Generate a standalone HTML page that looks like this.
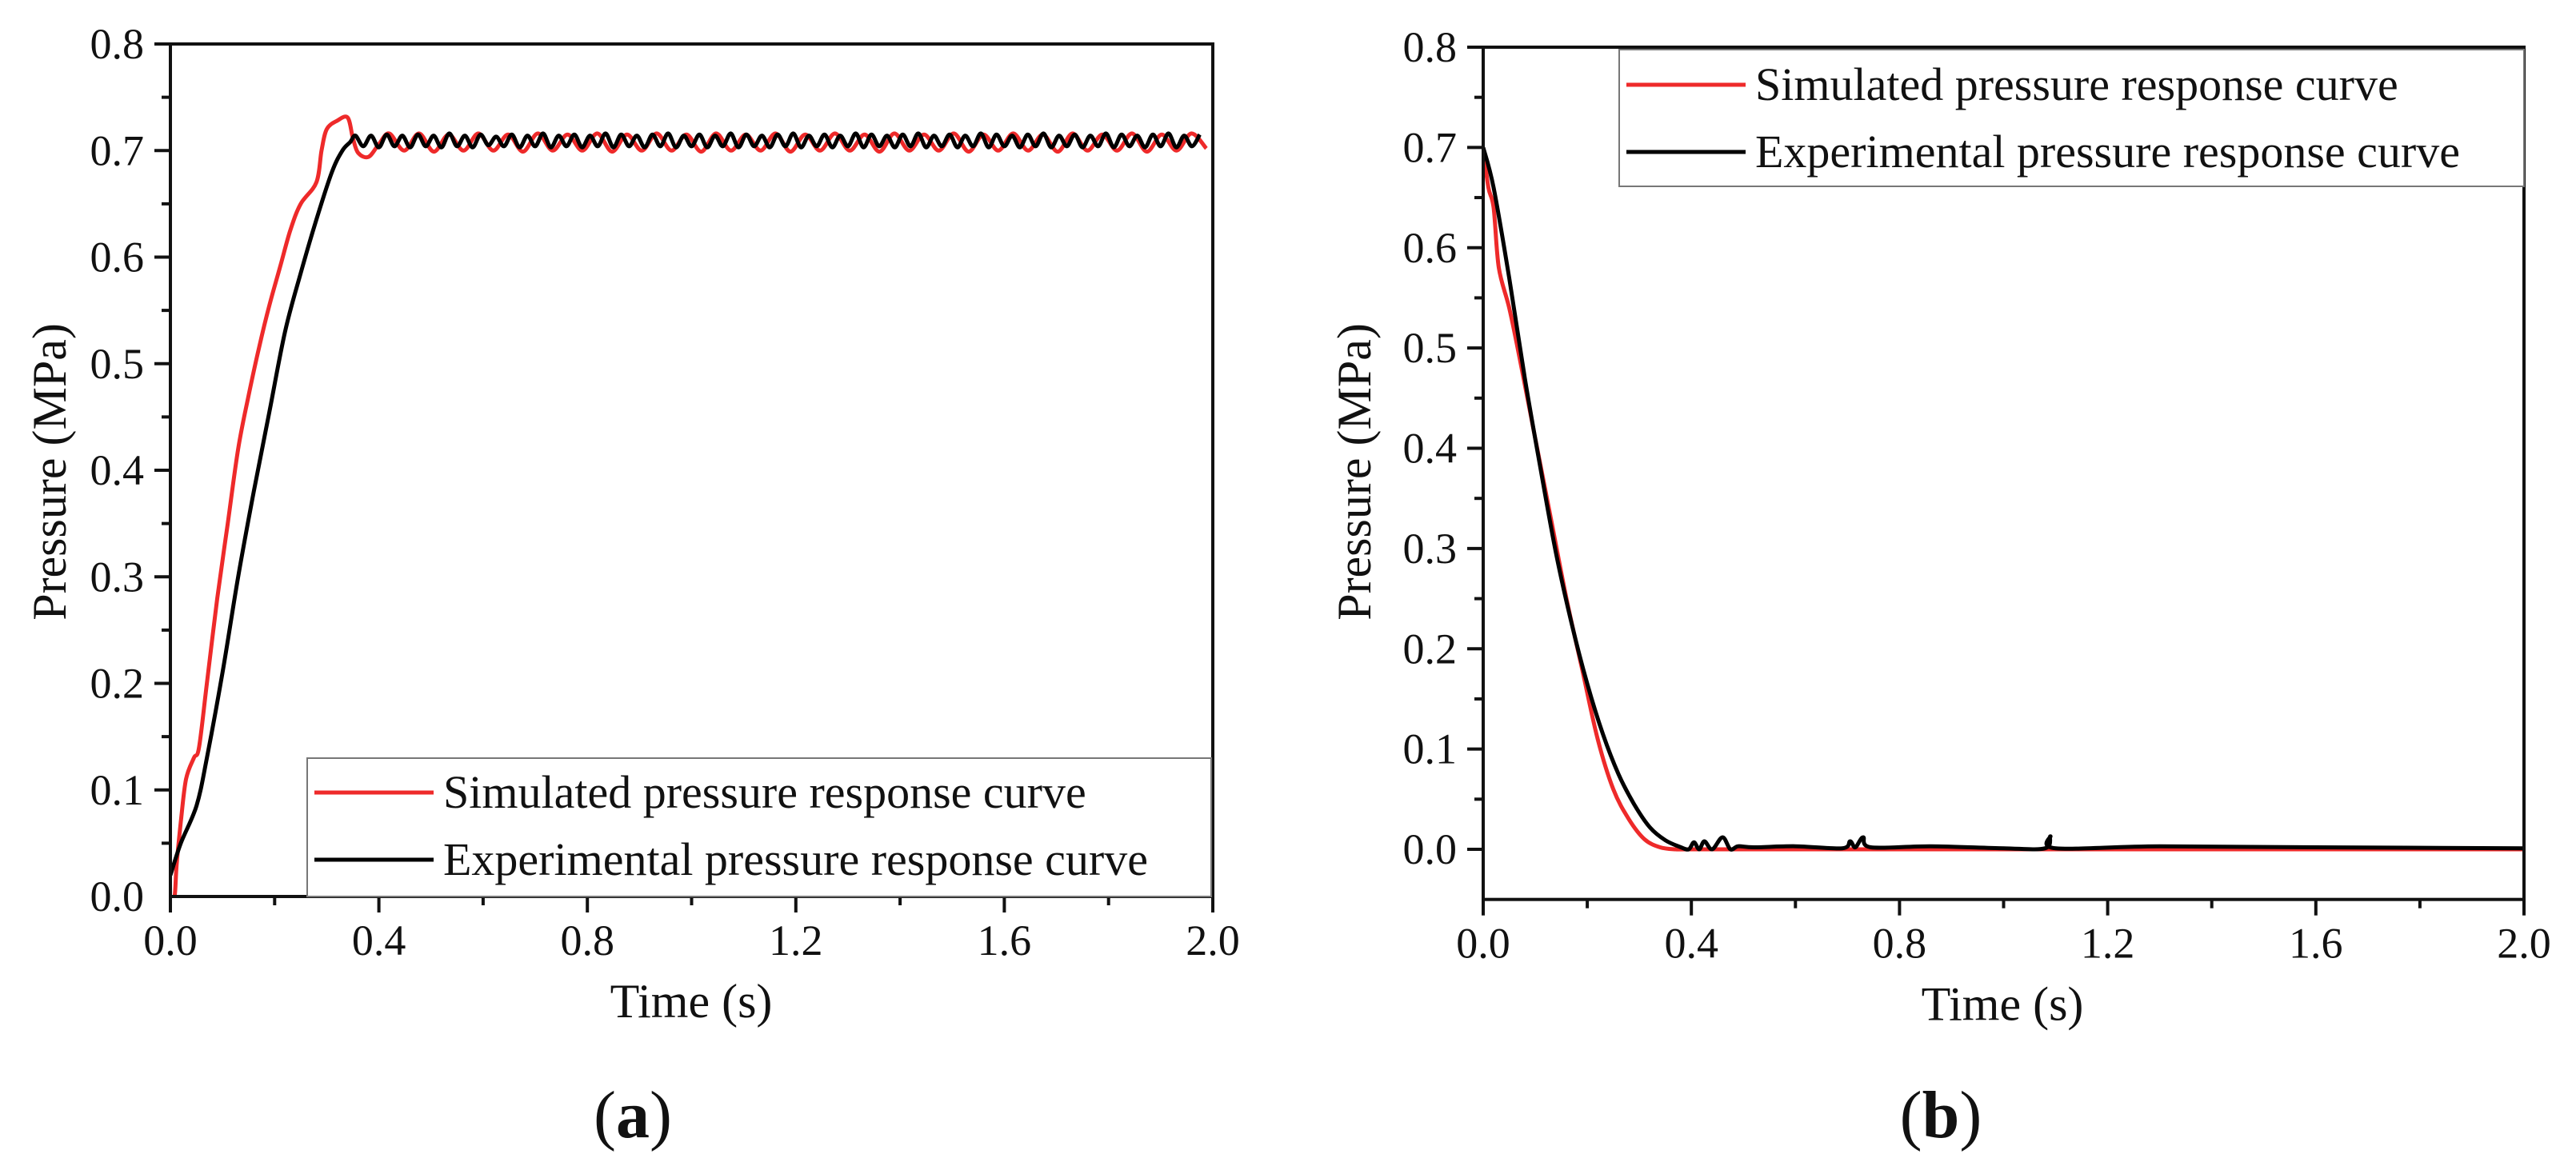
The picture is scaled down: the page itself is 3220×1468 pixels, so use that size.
<!DOCTYPE html>
<html><head><meta charset="utf-8"><style>
html,body{margin:0;padding:0;background:#fff}
svg{display:block}
text{font-family:"Liberation Serif",serif;fill:#111}
</style></head><body>
<svg id="fig" width="3220" height="1468" viewBox="0 0 3220 1468"></svg>
<script>
// ---------- Panel (a) data ----------
const aSimRiseT = [0.00,0.008,0.012,0.02,0.03,0.045,0.055,0.07,0.09,0.11,0.13,0.15,0.17,0.19,0.21,0.23,0.25,0.28,0.29,0.30,0.32,0.34,0.35,0.36,0.38,0.40];
const aSimRiseP = [0.00,0.00,0.03,0.07,0.11,0.13,0.14,0.20,0.28,0.35,0.42,0.47,0.515,0.555,0.59,0.625,0.65,0.67,0.70,0.72,0.728,0.731,0.712,0.698,0.694,0.706];
const aSimSteadyStart = 0.42;
const aSimSteadyDt = 0.0285;
const aSimSteady = [0.716,0.700,0.716,0.699,0.715,0.700,0.716,0.700,0.715,0.699,0.716,0.700,0.715,0.700,0.716,0.699,0.715,0.700,0.716,0.700,0.715,0.699,0.716,0.700,0.715,0.700,0.716,0.699,0.715,0.700,0.716,0.700,0.715,0.699,0.716,0.700,0.715,0.700,0.716,0.699,0.715,0.700,0.716,0.700,0.715,0.699,0.716,0.700,0.715,0.700,0.716,0.699,0.715,0.700,0.716,0.702];
const aExpRiseT = [0.00,0.02,0.05,0.07,0.10,0.13,0.16,0.19,0.22,0.25,0.28,0.31,0.33,0.345,0.355];
const aExpRiseP = [0.02,0.05,0.085,0.13,0.21,0.30,0.38,0.455,0.53,0.585,0.635,0.68,0.70,0.708,0.714];
const aExpSteadyStart = 0.37;
const aExpSteadyDt = 0.015;
const aExpSteady = [0.704,0.714,0.703,0.715,0.704,0.714,0.703,0.715,0.704,0.714,0.703,0.716,0.704,0.714,0.703,0.715,0.705,0.713,0.704,0.715,0.703,0.714,0.704,0.716,0.703,0.714,0.704,0.715,0.703,0.714,0.704,0.716,0.703,0.715,0.704,0.714,0.703,0.715,0.704,0.716,0.703,0.714,0.704,0.715,0.703,0.714,0.704,0.716,0.703,0.715,0.704,0.714,0.703,0.715,0.704,0.716,0.703,0.714,0.704,0.715,0.703,0.714,0.704,0.716,0.703,0.715,0.704,0.714,0.703,0.715,0.704,0.716,0.703,0.714,0.704,0.715,0.703,0.714,0.704,0.716,0.703,0.715,0.704,0.714,0.703,0.715,0.704,0.716,0.703,0.714,0.704,0.715,0.703,0.714,0.704,0.716,0.703,0.715,0.704,0.714,0.703,0.715,0.704,0.716,0.703,0.714,0.704,0.715];
// ---------- Panel (b) data ----------
const bSimT = [0.00,0.01,0.02,0.03,0.05,0.07,0.10,0.13,0.16,0.19,0.22,0.25,0.28,0.31,0.34,0.37,0.40,0.6,1.0,1.4,2.0];
const bSimP = [0.70,0.66,0.64,0.58,0.54,0.49,0.41,0.33,0.25,0.18,0.11,0.06,0.03,0.01,0.002,0.0,0.0,0.0,0.0,0.0,0.0];
const bExpT = [0.00,0.02,0.05,0.08,0.11,0.14,0.17,0.20,0.23,0.26,0.29,0.32,0.35,0.38,0.395,0.405,0.415,0.425,0.44,0.46,0.475,0.49,0.52,0.60,0.69,0.705,0.715,0.73,0.745,0.86,1.00,1.08,1.09,1.10,1.30,1.60,2.00];
const bExpP = [0.70,0.66,0.57,0.47,0.38,0.295,0.225,0.165,0.115,0.075,0.045,0.022,0.009,0.002,0.0,0.007,0.0,0.008,0.0,0.012,0.0,0.003,0.002,0.003,0.001,0.008,0.002,0.012,0.002,0.003,0.001,0.001,0.013,0.001,0.003,0.002,0.001];
// tick labels
const xTickVals = [0.0,0.4,0.8,1.2,1.6,2.0];
const xTickLabels = ["0.0","0.4","0.8","1.2","1.6","2.0"];
const yTickVals = [0.0,0.1,0.2,0.3,0.4,0.5,0.6,0.7,0.8];
const yTickLabels = ["0.0","0.1","0.2","0.3","0.4","0.5","0.6","0.7","0.8"];

const NS="http://www.w3.org/2000/svg";
const svg=document.getElementById('fig');
function mk(tag,attrs,parent){const e=document.createElementNS(NS,tag);for(const k in attrs)e.setAttribute(k,attrs[k]);(parent||svg).appendChild(e);return e;}

function steadyT(start,dt,arr){return arr.map((v,i)=>start+i*dt);}

function smoothPath(pts){
  let d="M"+pts[0][0].toFixed(1)+","+pts[0][1].toFixed(1);
  for(let i=0;i<pts.length-1;i++){
    const p0=pts[Math.max(0,i-1)],p1=pts[i],p2=pts[i+1],p3=pts[Math.min(pts.length-1,i+2)];
    const c1x=p1[0]+(p2[0]-p0[0])/6,c1y=p1[1]+(p2[1]-p0[1])/6;
    const c2x=p2[0]-(p3[0]-p1[0])/6,c2y=p2[1]-(p3[1]-p1[1])/6;
    d+=" C"+c1x.toFixed(1)+","+c1y.toFixed(1)+" "+c2x.toFixed(1)+","+c2y.toFixed(1)+" "+p2[0].toFixed(1)+","+p2[1].toFixed(1);
  }
  return d;
}

function panel(cfg){
  const g=mk('g',{});
  
  
  const X=t=>cfg.x0+(t-0)/(2.0)*(cfg.x1-cfg.x0);
  const Y=p=>cfg.y0-(p-0)/(0.8)*(cfg.y0-cfg.yTop);
  const yBottom=Y(cfg.yMin);
  const clipId=cfg.name+'-clip';
  const cp=mk('clipPath',{id:clipId},g);
  mk('rect',{x:cfg.x0,y:cfg.yTop,width:cfg.x1-cfg.x0,height:yBottom-cfg.yTop},cp);
  cfg.series.forEach(s=>{
    const pts=s.t.map((t,i)=>[X(t),Y(s.p[i])]);
    const path=mk('path',{d:smoothPath(pts),fill:'none',stroke:s.color,'stroke-width':5,'stroke-linejoin':'round','clip-path':'url(#'+clipId+')'},g);
    
    
  });
  const frame=mk('rect',{x:cfg.x0,y:cfg.yTop,width:cfg.x1-cfg.x0,height:yBottom-cfg.yTop,fill:'none',stroke:'#111','stroke-width':4},g);
  
  
  const xa=mk('g',{},g);
  
  
  for(let v=0;v<=2.0001;v+=0.2){
    const major=Math.abs(v/0.4-Math.round(v/0.4))<0.01;
    mk('line',{x1:X(v),x2:X(v),y1:yBottom,y2:yBottom+(major?20:11),stroke:'#111','stroke-width':4},xa);
  }
  xTickVals.forEach((v,i)=>{
    const t=mk('text',{x:X(v),y:yBottom+73,'font-size':54,'text-anchor':'middle'},xa);
    t.textContent=xTickLabels[i];
    
    
  });
  const xt=mk('text',{x:cfg.xTitleX,y:yBottom+151,'font-size':60,'text-anchor':'middle'},g);
  xt.textContent='Time (s)';
  
  
  const ya=mk('g',{},g);
  
  
  for(let v=cfg.yMin+0.05;v<=0.8001;v+=0.05){
    const major=Math.abs(v/0.1-Math.round(v/0.1))<0.01;
    mk('line',{x1:cfg.x0,x2:cfg.x0-(major?20:11),y1:Y(v),y2:Y(v),stroke:'#111','stroke-width':4},ya);
  }
  yTickVals.forEach((v,i)=>{
    const t=mk('text',{x:cfg.x0-33,y:Y(v)+18,'font-size':54,'text-anchor':'end'},ya);
    t.textContent=yTickLabels[i];
    
    
  });
  const yt=mk('text',{x:0,y:0,'font-size':60,'text-anchor':'middle',transform:'translate('+cfg.yTitleX+','+cfg.yTitleY+') rotate(-90)'},g);
  yt.textContent='Pressure (MPa)';
  
  
  const lg=mk('g',{},g);
  
  
  const L=cfg.legend;
  mk('rect',{x:L.x,y:L.y,width:L.w,height:L.h,fill:'#fff',stroke:'#777','stroke-width':2},lg);
  cfg.series.forEach((s,i)=>{
    const ly=L.y+L.row0+i*84;
    const e=mk('g',{},lg);
    
    
    mk('line',{x1:L.x+9,x2:L.x+158,y1:ly,y2:ly,stroke:s.color,'stroke-width':5},e);
    const t=mk('text',{x:L.x+170,y:ly+19,'font-size':58},e);
    t.textContent=s.label;
  });
  const pl=mk('text',{x:cfg.labelX,y:1422,'font-size':84,'text-anchor':'middle'},g);
  pl.innerHTML='(<tspan font-weight="bold">'+cfg.letter+'</tspan>)';
  
  
}

panel({name:'panel-a',letter:'a',x0:213,x1:1516,yTop:55,y0:1121,yMin:0,
  xTitleX:864,yTitleX:82,yTitleY:590,labelX:791,
  legend:{x:384,y:948,w:1130,h:173,row0:43},
  series:[
    {name:'simulated-curve',label:'Simulated pressure response curve',color:'#ee2a2a',
     t:aSimRiseT.concat(steadyT(aSimSteadyStart,aSimSteadyDt,aSimSteady)),p:aSimRiseP.concat(aSimSteady)},
    {name:'experimental-curve',label:'Experimental pressure response curve',color:'#000',
     t:aExpRiseT.concat(steadyT(aExpSteadyStart,aExpSteadyDt,aExpSteady)),p:aExpRiseP.concat(aExpSteady)}
  ]});

panel({name:'panel-b',letter:'b',x0:1854,x1:3155,yTop:59,y0:1062,yMin:-0.05,
  xTitleX:2503,yTitleX:1713,yTitleY:590,labelX:2426,
  legend:{x:2024,y:62,w:1131,h:171,row0:44},
  series:[
    {name:'simulated-curve',label:'Simulated pressure response curve',color:'#ee2a2a',t:bSimT,p:bSimP},
    {name:'experimental-curve',label:'Experimental pressure response curve',color:'#000',t:bExpT,p:bExpP}
  ]});
</script>
</body></html>
